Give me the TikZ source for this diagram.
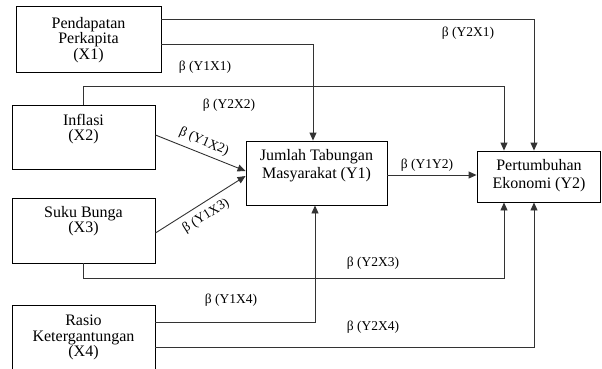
\documentclass[tikz,border=0pt]{standalone}
\usepackage{fontspec}
\setmainfont{Liberation Serif}
\usetikzlibrary{arrows.meta}
\begin{document}
\begin{tikzpicture}[x=1pt,y=-1pt,
  boxline/.style={draw=black,line width=0.9pt},
  boxtext/.style={inner sep=0pt,align=center,font=\fontsize{16}{15.5}\selectfont},
  boxtextb/.style={inner sep=0pt,align=center,font=\fontsize{16}{18}\selectfont},
  conn/.style={draw=black!80,line width=0.9pt},
  arr/.style={conn,-{Triangle[length=8pt,width=7pt]}},
  lbl/.style={inner sep=0pt,font=\fontsize{13.5}{14}\selectfont}]
\useasboundingbox (0,0) rectangle (602,368);
\begin{scope}
\clip (0,0) rectangle (602,368);
% boxes
\node[boxline,minimum width=145pt,minimum height=66pt,inner sep=0pt] (x1) at (88.5,39) {};
\node[boxline,minimum width=143pt,minimum height=64pt,inner sep=0pt] (x2) at (83.5,137) {};
\node[boxline,minimum width=143pt,minimum height=65pt,inner sep=0pt] (x3) at (83.5,230.5) {};
\node[boxline,minimum width=143pt,minimum height=70pt,inner sep=0pt] (x4) at (83.5,340) {};
\node[boxline,minimum width=141pt,minimum height=64pt,inner sep=0pt] (y1) at (316.5,173) {};
\node[boxline,minimum width=123.5pt,minimum height=51pt,inner sep=0pt] (y2) at (538.75,176.5) {};
\end{scope}
% box texts
\node[boxtext] (tx1) at (88.5,40) {Pendapatan\\Perkapita\\(X1)};
\node[boxtext,anchor=north] (tx2) at (83.5,114) {Inflasi\\(X2)};
\node[boxtext,anchor=north] (tx3) at (83.5,206) {Suku Bunga\\(X3)};
\node[boxtext,anchor=north] (tx4) at (83.5,315) {Rasio\\Ketergantungan\\(X4)};
\node[boxtextb] (ty1) at (316.5,166) {Jumlah Tabungan\\Masyarakat (Y1)};
\node[boxtextb] (ty2) at (539,176) {Pertumbuhan\\Ekonomi (Y2)};
% coordinates for connectors
\coordinate (a1) at (x1.east |- 0,19);
\coordinate (a2) at (x1.east |- 0,44);
\coordinate (a3) at (83,86);
\coordinate (a4) at (83,278);
\coordinate (a5) at (x4.east |- 0,322);
\coordinate (a6) at (x4.east |- 0,347);
\coordinate (b2) at (x2.east |- 0,135);
\coordinate (b3) at (x3.east |- 0,233);
\coordinate (c2) at (y1.west |- 0,171);
\coordinate (c3) at (y1.west |- 0,176);
% connectors
\draw[arr] (a1) -| (y2.north -| 534,0);
\draw[arr] (a2) -| (y1.north -| 313,0);
\draw[arr] (x2.north -| a3) -- (a3) -| (y2.north -| 504,0);
\draw[arr] (b2) -- (c2);
\draw[arr] (b3) -- (c3);
\draw[arr] (x3.south -| a4) -- (a4) -| (y2.south -| 504,0);
\draw[arr] (a5) -| (y1.south -| 315,0);
\draw[arr] (a6) -| (y2.south -| 534,0);
\draw[arr] (y1.east |- 0,175) -- (y2.west |- 0,175);
% labels
\node[lbl] (l1) at (468,33) {β (Y2X1)};
\node[lbl] (l2) at (205,67) {β (Y1X1)};
\node[lbl] (l3) at (229,105) {β (Y2X2)};
\node[lbl] (l4) at (427,165) {β (Y1Y2)};
\node[lbl] (l5) at (373,263) {β (Y2X3)};
\node[lbl] (l6) at (231,300) {β (Y1X4)};
\node[lbl] (l7) at (373,327) {β (Y2X4)};
\node[lbl,rotate=-23] (l8) at (204,142) {β (Y1X2)};
\node[lbl,rotate=32] (l9) at (206,216) {β (Y1X3)};
\end{tikzpicture}
\end{document}
